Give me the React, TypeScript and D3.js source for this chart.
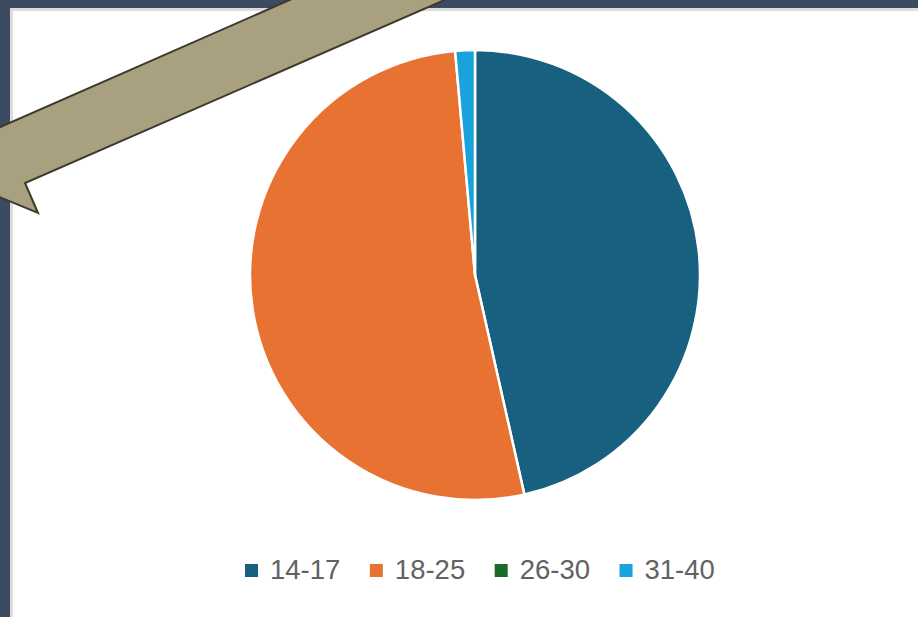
import React, { useRef, useEffect } from 'react';
import * as d3 from 'd3';

const categories = ['14-17', '18-25', '26-30', '31-40'];
const counts = [33, 37, 0, 1];
const colors = ['#17607f', '#e87232', '#1a6b28', '#1aa2da'];

const W = 918;
const H = 617;

const PieChart: React.FC = () => {
  const svgRef = useRef<SVGSVGElement | null>(null);

  useEffect(() => {
    if (!svgRef.current) return;
    const svg = d3.select(svgRef.current);
    svg.selectAll('*').remove();

    // frame
    svg.append('rect').attr('width', W).attr('height', H).attr('fill', '#3c4b62');
    svg.append('rect').attr('x', 10).attr('y', 8).attr('width', W - 10).attr('height', H - 8).attr('fill', '#dcdcdc');
    svg.append('rect').attr('x', 13).attr('y', 11).attr('width', W - 13).attr('height', H - 11).attr('fill', '#ffffff');

    const cx = 475;
    const cy = 275;
    const r = 225;

    const pie = d3.pie<number>().sort(null).value(d => d);
    const arc = d3.arc<d3.PieArcDatum<number>>().innerRadius(0).outerRadius(r);

    svg
      .append('g')
      .attr('transform', `translate(${cx},${cy})`)
      .selectAll('path')
      .data(pie(counts))
      .join('path')
      .attr('d', arc)
      .attr('fill', (_, i) => colors[i])
      .attr('stroke', '#ffffff')
      .attr('stroke-width', (d) => (d.value > 0 ? 2.5 : 0));

    // legend
    const fontSize = 27.5;
    const legend = svg.append('g').attr('font-family', 'Liberation Sans, Arial, sans-serif').attr('font-size', fontSize);
    const items = legend.selectAll('g').data(categories).join('g');
    items.append('rect').attr('width', 13).attr('height', 13).attr('y', -13).attr('fill', (_, i) => colors[i]);
    items
      .append('text')
      .attr('x', 25)
      .attr('y', 0)
      .attr('dy', '0.08em')
      .attr('fill', '#626262')
      .text(d => d);

    const gap = 29.5;
    let x = 0;
    const xs: number[] = [];
    items.each(function () {
      const t = (this as SVGGElement).querySelector('text') as SVGTextElement;
      xs.push(x);
      x += 25 + t.getComputedTextLength() + gap;
    });
    const x0 = 245;
    items.attr('transform', (_, i) => `translate(${x0 + xs[i]},${577})`);

    // arrow callout
    const arrow: [number, number][] = [
      [456, -5],
      [25, 183],
      [38, 213],
      [-20, 189],
      [-20, 136],
      [301, -5],
    ];
    svg
      .append('polygon')
      .attr('points', arrow.map(p => p.join(',')).join(' '))
      .attr('fill', '#a9a07f')
      .attr('stroke', '#3c3a2c')
      .attr('stroke-width', 2)
      .attr('stroke-linejoin', 'miter');
  }, []);

  return <svg ref={svgRef} width={W} height={H} style={{ display: 'block' }} />;
};

export default function App() {
  return (
    <div style={{ position: 'fixed', left: 0, top: 0, width: W, height: H }}>
      <PieChart />
    </div>
  );
}
